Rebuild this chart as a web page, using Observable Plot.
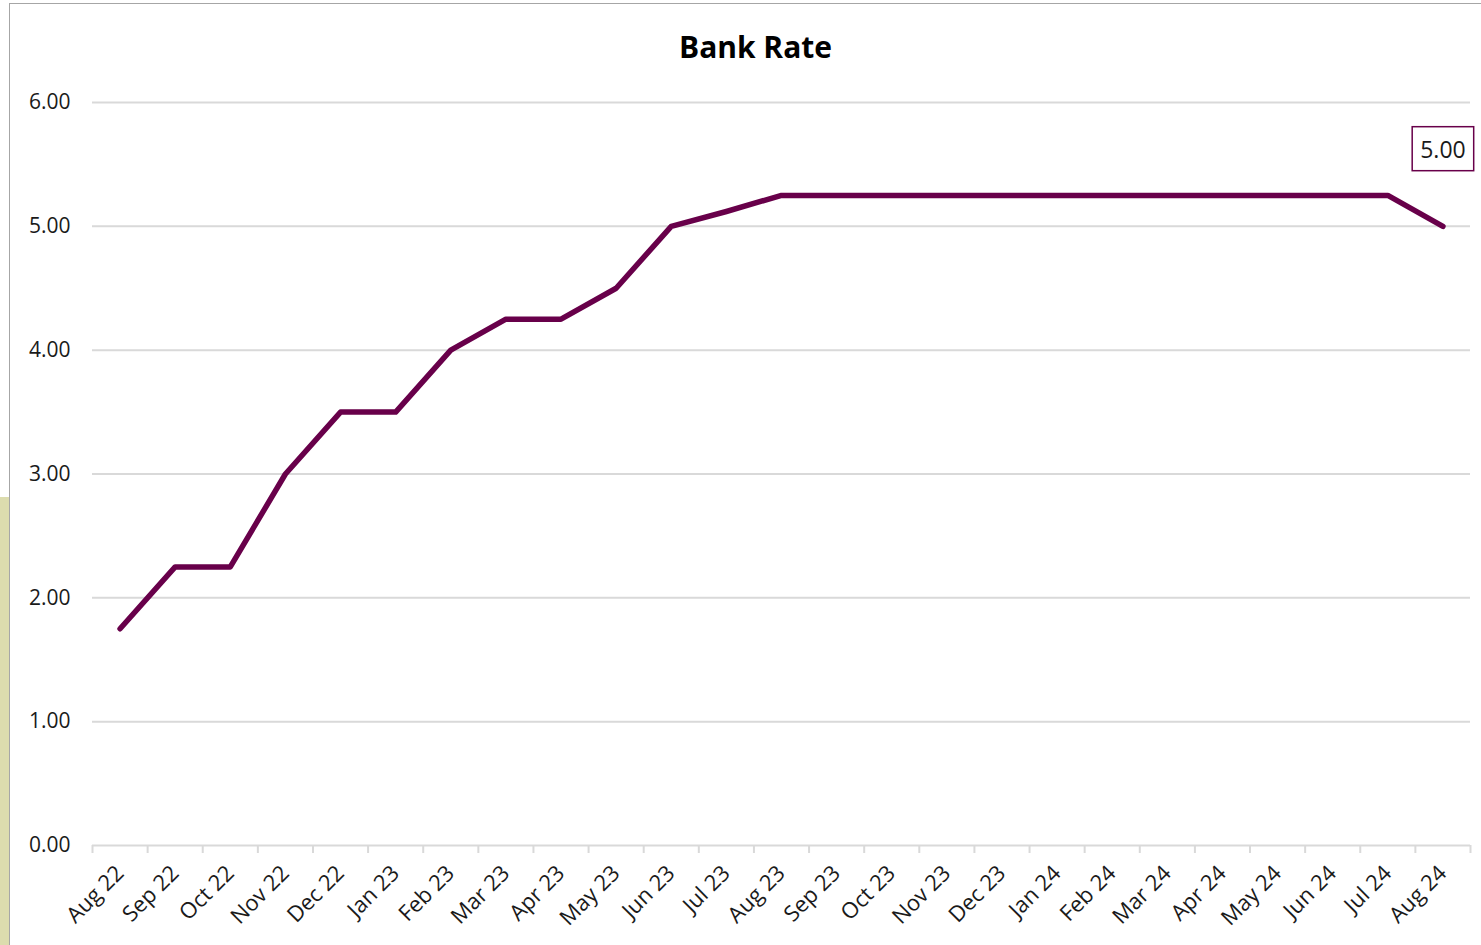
<!DOCTYPE html>
<html>
<head>
<meta charset="utf-8">
<script src="https://cdn.jsdelivr.net/npm/d3@7"></script>
<script src="https://cdn.jsdelivr.net/npm/@observablehq/plot@0.6"></script>
<style>
  html, body { margin: 0; padding: 0; background: #fff; }
  #wrap { position: relative; width: 1481px; height: 945px; overflow: hidden; background: #fff; }
  #strip { position: absolute; left: 0; top: 497px; width: 9px; height: 448px; background: #dcdcae; }
  #frame { position: absolute; left: 9px; top: 3px; width: 1500px; height: 1000px; border: 1.5px solid #a6a6a6; box-sizing: border-box; }
  #chart { position: absolute; left: 0; top: 0; }
</style>
</head>
<body>
<div id="wrap">
  <div id="strip"></div>
  <div id="frame"></div>
  <div id="chart"></div>
</div>
<script>
const title = "Bank Rate";
const months = ["Aug 22","Sep 22","Oct 22","Nov 22","Dec 22","Jan 23","Feb 23","Mar 23","Apr 23","May 23","Jun 23","Jul 23","Aug 23","Sep 23","Oct 23","Nov 23","Dec 23","Jan 24","Feb 24","Mar 24","Apr 24","May 24","Jun 24","Jul 24","Aug 24"];
const rates = [1.75,2.25,2.25,3.00,3.50,3.50,4.00,4.25,4.25,4.50,5.00,5.12,5.25,5.25,5.25,5.25,5.25,5.25,5.25,5.25,5.25,5.25,5.25,5.25,5.00];
const yTicks = [0,1,2,3,4,5,6];

const data = months.map((m, i) => ({i, month: m, rate: rates[i]}));
const centers = months.map((m, i) => i);
const bounds = d3.range(months.length + 1).map(i => i - 0.5);
const last = data[data.length - 1];

const plot = Plot.plot({
  width: 1481,
  height: 945,
  marginLeft: 92,
  marginRight: 11,
  marginTop: 102,
  marginBottom: 100,
  style: {fontFamily: "'Open Sans', sans-serif", fontSize: "20px", color: "#1a1a1a", background: "transparent", overflow: "visible"},
  x: {domain: [-0.5, months.length - 0.5], axis: null},
  y: {domain: [0, 6], axis: null},
  marks: [
    Plot.gridY(yTicks, {stroke: "#d9d9d9", strokeOpacity: 1, strokeWidth: 2}),
    Plot.axisY(yTicks, {tickSize: 0, tickPadding: 22, tickFormat: d => d.toFixed(2), fontSize: 21, label: null}),
    Plot.axisX(bounds, {tickSize: 8, stroke: "#d9d9d9", strokeWidth: 2, strokeOpacity: 1, tickFormat: () => "", label: null}),
    Plot.axisX(centers, {tickSize: 0, tickPadding: 24, tickRotate: -45, tickFormat: i => months[i], fontSize: 22, label: null}),
    Plot.line(data, {x: "i", y: "rate", stroke: "#68004a", strokeWidth: 5.5, strokeLinejoin: "round", strokeLinecap: "round"}),
    Plot.text([last], {x: "i", y: "rate", text: d => d.rate.toFixed(2), dy: -76, fontSize: 23, fill: "#1a1a1a", className: "endlabel"}),
    Plot.text([title], {frameAnchor: "top", lineAnchor: "middle", dy: -54, dx: -26, fontSize: 30, fontWeight: "bold", fill: "#000"})
  ]
});
document.getElementById("chart").appendChild(plot);

// draw a box around the end label
const t = plot.querySelector(".endlabel text");
if (t) {
  const bb = t.getBBox();
  const ctm = t.getAttribute("transform");
  const rect = document.createElementNS("http://www.w3.org/2000/svg", "rect");
  rect.setAttribute("x", bb.x - 8);
  rect.setAttribute("y", bb.y - 6);
  rect.setAttribute("width", bb.width + 16);
  rect.setAttribute("height", bb.height + 12);
  rect.setAttribute("fill", "#fff");
  rect.setAttribute("stroke", "#68004a");
  rect.setAttribute("stroke-width", "1.5");
  if (ctm) rect.setAttribute("transform", ctm);
  t.parentNode.insertBefore(rect, t);
}
</script>
</body>
</html>
